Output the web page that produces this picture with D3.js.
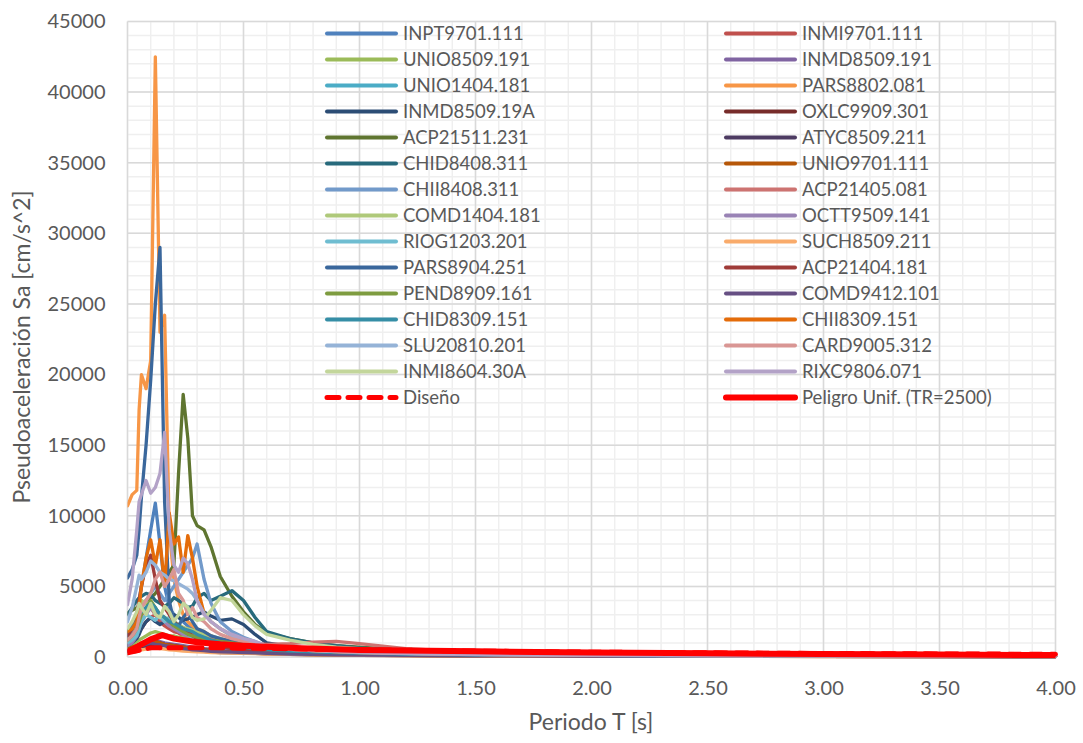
<!DOCTYPE html>
<html>
<head>
<meta charset="utf-8">
<script src="https://cdn.jsdelivr.net/npm/d3@7"></script>
<style>
  body { margin: 0; background: #fff; }
  svg { display: block; }
  text { font-family: Lato, "Open Sans", sans-serif; fill: #595959; }
</style>
</head>
<body>
<svg id="chart" width="1083" height="743"></svg>
<script>
// Periods (s) shared by all recorded spectra
const periods = [0, 0.02, 0.04, 0.05, 0.06, 0.08, 0.10, 0.12, 0.14, 0.16, 0.18, 0.20, 0.22, 0.24, 0.26, 0.28, 0.30, 0.33, 0.36, 0.40, 0.45, 0.50, 0.55, 0.60, 0.70, 0.80, 0.90, 1.00, 1.20, 1.50, 2.00, 2.50, 3.00, 3.50, 4.00];

// Pseudo-acceleration Sa (cm/s^2) of each record
const INPT9701_111 = [1500, 2000, 3000, 4000, 5000, 7000, 9000, 10900, 8000, 5000, 3500, 3000, 2800, 2500, 2200, 2000, 1800, 1500, 1200, 1000, 800, 650, 550, 450, 380, 320, 280, 250, 200, 150, 110, 85, 70, 55, 45];
const INMI9701_111 = [1000, 1200, 1500, 1800, 2000, 2500, 2800, 3000, 2500, 2200, 2000, 1800, 1700, 1500, 1400, 1300, 1200, 1100, 1000, 900, 800, 700, 600, 500, 420, 360, 320, 280, 220, 160, 120, 90, 70, 60, 50];
const UNIO8509_191 = [800, 900, 1100, 1200, 1300, 1500, 1700, 1800, 1700, 1600, 1500, 1500, 1400, 1400, 1300, 1300, 1200, 1200, 1100, 1000, 900, 800, 700, 600, 500, 420, 360, 300, 230, 170, 120, 90, 75, 60, 50];
const INMD8509_191 = [500, 600, 700, 800, 900, 1000, 1100, 1200, 1100, 1000, 950, 900, 850, 800, 750, 700, 650, 600, 550, 500, 450, 400, 380, 330, 280, 240, 210, 190, 150, 110, 80, 60, 50, 40, 35];
const UNIO1404_181 = [1500, 1800, 2200, 2800, 3000, 3200, 3500, 3000, 2800, 2500, 2300, 2500, 2200, 2000, 1800, 1600, 1500, 1300, 1100, 950, 800, 700, 600, 500, 420, 360, 310, 270, 200, 150, 110, 85, 70, 55, 45];
const PARS8802_081 = [10700, 11500, 11800, 17500, 20000, 19000, 21000, 42500, 23000, 24200, 9000, 5500, 4000, 3000, 2500, 2200, 2000, 1800, 1500, 1200, 1000, 900, 800, 650, 550, 450, 400, 350, 280, 200, 150, 110, 90, 70, 60];
const INMD8509_19A = [800, 1000, 1300, 1600, 2000, 2500, 2800, 2500, 2300, 2500, 2800, 3000, 2800, 2600, 2700, 2800, 3000, 3200, 2900, 2600, 2700, 2300, 1600, 1000, 750, 580, 480, 400, 300, 210, 150, 110, 90, 70, 60];
const OXLC9909_301 = [400, 500, 600, 700, 800, 900, 1000, 1100, 1000, 900, 850, 800, 750, 700, 650, 600, 550, 500, 450, 400, 350, 320, 300, 260, 220, 190, 170, 150, 120, 90, 70, 55, 45, 38, 32];
const ACP21511_231 = [3100, 3300, 3500, 3400, 3600, 4000, 4200, 4500, 5000, 5500, 6000, 6500, 13000, 18600, 15500, 10000, 9300, 9000, 7800, 5700, 4300, 3200, 2300, 1700, 1300, 1000, 800, 700, 500, 350, 250, 180, 130, 100, 80];
const ATYC8509_211 = [300, 350, 400, 500, 600, 700, 800, 900, 850, 800, 700, 650, 600, 550, 500, 480, 450, 400, 350, 320, 300, 280, 250, 220, 190, 160, 140, 120, 95, 70, 55, 45, 38, 32, 28];
const CHID8408_311 = [3000, 3500, 4000, 4200, 4300, 4500, 4400, 4000, 3800, 3600, 3800, 4200, 4000, 3800, 3500, 3600, 4200, 4500, 4000, 4300, 4700, 4000, 2800, 1800, 1300, 1000, 800, 650, 450, 300, 220, 160, 120, 100, 80];
const UNIO9701_111 = [600, 700, 800, 900, 1000, 1100, 1200, 1100, 1000, 900, 850, 800, 750, 700, 650, 600, 550, 500, 450, 400, 350, 300, 270, 230, 200, 170, 150, 130, 100, 75, 55, 45, 35, 30, 25];
const CHII8408_311 = [1500, 1800, 2500, 3000, 3500, 4000, 4500, 5000, 4500, 4000, 4500, 5000, 5500, 6000, 6500, 7000, 8000, 5500, 3800, 2500, 1800, 1400, 1100, 800, 600, 480, 400, 340, 250, 180, 130, 100, 80, 65, 55];
const ACP21405_081 = [1200, 1500, 2000, 2500, 3000, 3200, 3500, 3000, 2800, 2500, 2200, 2000, 1900, 1800, 1700, 1600, 1500, 1400, 1300, 1200, 1100, 1000, 950, 900, 950, 1050, 1100, 950, 600, 350, 220, 150, 110, 90, 75];
const COMD1404_181 = [1800, 2200, 3000, 3500, 4000, 3800, 3500, 3200, 3000, 2800, 2600, 2500, 2300, 2100, 2000, 1900, 1800, 1600, 1500, 1300, 1100, 950, 850, 700, 550, 450, 380, 320, 240, 170, 120, 90, 75, 60, 50];
const OCTT9509_141 = [800, 1000, 1500, 2000, 2500, 3000, 3500, 3200, 2800, 2500, 2200, 2000, 1800, 1600, 1500, 1400, 1300, 1200, 1000, 900, 800, 700, 600, 500, 420, 350, 300, 260, 200, 150, 110, 85, 70, 55, 45];
const RIOG1203_201 = [1000, 1200, 1500, 2000, 2500, 3000, 2800, 2600, 3000, 2500, 2800, 2200, 2000, 1800, 1600, 1400, 1300, 1200, 1000, 850, 700, 600, 500, 420, 350, 300, 260, 230, 180, 130, 100, 80, 65, 55, 45];
const SUCH8509_211 = [300, 350, 400, 450, 500, 550, 600, 650, 600, 550, 500, 480, 450, 420, 400, 380, 360, 340, 320, 300, 280, 260, 240, 210, 180, 160, 140, 120, 100, 75, 55, 45, 38, 32, 28];
const PARS8904_251 = [5600, 6200, 7200, 9000, 11300, 15000, 19600, 25000, 29000, 11000, 4000, 2500, 2200, 2800, 3200, 2500, 2000, 1800, 1500, 1300, 1100, 900, 800, 650, 500, 420, 380, 330, 260, 190, 140, 100, 80, 65, 55];
const ACP21404_181 = [1500, 2000, 3000, 4000, 5000, 6500, 7200, 5500, 4000, 3500, 3000, 2500, 2200, 2000, 1800, 1500, 1300, 1100, 900, 750, 600, 500, 450, 380, 320, 280, 250, 220, 180, 130, 100, 80, 65, 55, 45];
const PEND8909_161 = [1200, 1500, 2000, 2500, 3000, 3500, 4000, 3500, 3000, 2800, 2500, 2200, 2000, 1800, 1600, 1500, 1400, 1300, 1200, 1100, 1000, 900, 800, 650, 520, 430, 370, 320, 240, 170, 120, 90, 75, 60, 50];
const COMD9412_101 = [400, 500, 600, 700, 800, 900, 1000, 900, 850, 800, 750, 700, 650, 600, 550, 500, 480, 450, 400, 370, 340, 310, 290, 250, 210, 180, 160, 140, 110, 80, 60, 48, 40, 34, 30];
const CHID8309_151 = [1800, 2200, 2500, 3000, 3200, 3500, 3800, 3500, 3000, 2800, 2500, 2400, 2200, 2000, 1900, 1800, 1600, 1400, 1200, 1000, 850, 700, 600, 500, 420, 360, 310, 270, 200, 150, 110, 85, 70, 55, 45];
const CHII8309_151 = [1800, 2000, 2500, 3500, 5000, 7000, 8300, 6500, 8300, 5000, 10200, 8000, 8500, 6000, 8600, 7000, 5000, 3100, 2500, 2000, 1500, 1200, 1000, 800, 600, 450, 380, 320, 250, 180, 130, 100, 80, 65, 55];
const SLU20810_201 = [2500, 3500, 5000, 5800, 5500, 6000, 6800, 6500, 6000, 5800, 5500, 5400, 5200, 5000, 4800, 4500, 4000, 3100, 2500, 2000, 1500, 1200, 1000, 750, 550, 450, 380, 320, 240, 170, 120, 90, 75, 60, 50];
const CARD9005_312 = [1200, 1500, 2000, 2800, 3500, 4000, 4500, 5500, 6000, 5000, 5500, 6200, 4500, 4000, 3000, 3500, 2800, 2500, 2000, 1600, 1300, 1100, 900, 700, 550, 450, 380, 330, 250, 180, 130, 100, 80, 65, 55];
const INMI8604_30A = [2000, 2500, 3200, 3800, 3500, 3000, 3800, 3000, 2800, 3600, 3200, 2500, 3000, 3800, 3500, 2800, 2600, 2700, 3300, 4200, 4000, 3000, 2200, 1600, 1200, 900, 700, 600, 420, 300, 210, 150, 110, 90, 70];
const RIXC9806_071 = [3700, 5500, 9000, 11000, 11500, 12500, 11600, 12000, 13000, 15900, 9000, 6500, 6000, 7000, 6600, 5500, 4000, 3000, 2500, 2000, 1600, 1300, 1100, 800, 600, 480, 400, 350, 260, 180, 130, 100, 80, 65, 55];

// Design spectrum
const designT  = [0, 0.10, 0.40, 0.60, 1.00, 1.50, 2.00, 3.00, 4.00];
const designSa = [300, 650, 650, 600, 520, 420, 340, 250, 190];

// Uniform hazard spectrum, TR = 2500 years
const uhsT  = [0, 0.05, 0.10, 0.15, 0.20, 0.30, 0.40, 0.50, 0.75, 1.00, 1.50, 2.00, 2.50, 3.00, 3.50, 4.00];
const uhsSa = [350, 800, 1250, 1550, 1300, 1050, 900, 800, 620, 500, 400, 320, 260, 210, 170, 140];

// Axis ticks
const xTicks = [0, 0.5, 1.0, 1.5, 2.0, 2.5, 3.0, 3.5, 4.0];
const yTicks = [0, 5000, 10000, 15000, 20000, 25000, 30000, 35000, 40000, 45000];

const records = [
  ["INPT9701.111", INPT9701_111, "#4F81BD"],
  ["INMI9701.111", INMI9701_111, "#C0504D"],
  ["UNIO8509.191", UNIO8509_191, "#9BBB59"],
  ["INMD8509.191", INMD8509_191, "#8064A2"],
  ["UNIO1404.181", UNIO1404_181, "#4BACC6"],
  ["PARS8802.081", PARS8802_081, "#F79646"],
  ["INMD8509.19A", INMD8509_19A, "#2C4D75"],
  ["OXLC9909.301", OXLC9909_301, "#772C2A"],
  ["ACP21511.231", ACP21511_231, "#5F7530"],
  ["ATYC8509.211", ATYC8509_211, "#4D3B62"],
  ["CHID8408.311", CHID8408_311, "#276A7C"],
  ["UNIO9701.111", UNIO9701_111, "#B65708"],
  ["CHII8408.311", CHII8408_311, "#729ACA"],
  ["ACP21405.081", ACP21405_081, "#CD7371"],
  ["COMD1404.181", COMD1404_181, "#AFC97A"],
  ["OCTT9509.141", OCTT9509_141, "#9983B5"],
  ["RIOG1203.201", RIOG1203_201, "#6FBDD1"],
  ["SUCH8509.211", SUCH8509_211, "#F9AB6B"],
  ["PARS8904.251", PARS8904_251, "#3A679C"],
  ["ACP21404.181", ACP21404_181, "#9F3B38"],
  ["PEND8909.161", PEND8909_161, "#7E9C40"],
  ["COMD9412.101", COMD9412_101, "#664F83"],
  ["CHID8309.151", CHID8309_151, "#358EA6"],
  ["CHII8309.151", CHII8309_151, "#E46C0A"],
  ["SLU20810.201", SLU20810_201, "#95B3D7"],
  ["CARD9005.312", CARD9005_312, "#D99694"],
  ["INMI8604.30A", INMI8604_30A, "#C3D69B"],
  ["RIXC9806.071", RIXC9806_071, "#B3A2C7"]
];

const svg = d3.select("#chart");
const pL = 127.5, pR = 1055.5, pT = 21.5, pB = 657;
const x = d3.scaleLinear().domain([0, 4]).range([pL, pR]);
const y = d3.scaleLinear().domain([0, 45000]).range([pB, pT]);

// Grid: minor then major
const grid = svg.append("g");
grid.selectAll(".vminor").data(d3.range(0, 41).map(i => i / 10)).join("line")
  .attr("x1", d => x(d)).attr("x2", d => x(d)).attr("y1", pT).attr("y2", pB)
  .attr("stroke", "#efefef").attr("stroke-width", 1.5);
grid.selectAll(".hminor").data(d3.range(0, 46).map(i => i * 1000)).join("line")
  .attr("y1", d => y(d)).attr("y2", d => y(d)).attr("x1", pL).attr("x2", pR)
  .attr("stroke", "#efefef").attr("stroke-width", 1.5);
grid.selectAll(".vmajor").data(xTicks).join("line")
  .attr("x1", d => x(d)).attr("x2", d => x(d)).attr("y1", pT).attr("y2", pB)
  .attr("stroke", "#d9d9d9").attr("stroke-width", 1.5);
grid.selectAll(".hmajor").data(yTicks).join("line")
  .attr("y1", d => y(d)).attr("y2", d => y(d)).attr("x1", pL).attr("x2", pR)
  .attr("stroke", "#d9d9d9").attr("stroke-width", 1.5);

// Axes (labels only)
const xAxis = svg.append("g").attr("transform", `translate(0,${pB})`)
  .call(d3.axisBottom(x).tickValues(xTicks).tickFormat(d3.format(".2f")).tickSize(0).tickPadding(24));
const yAxis = svg.append("g").attr("transform", `translate(${pL},0)`)
  .call(d3.axisLeft(y).tickValues(yTicks).tickFormat(d3.format("d")).tickSize(0).tickPadding(22));
[xAxis, yAxis].forEach(a => {
  a.select(".domain").remove();
  a.selectAll("text").style("font-family", "Lato, 'Open Sans', sans-serif").style("font-size", "20px").attr("fill", "#595959");
});

svg.append("text").attr("x", 591).attr("y", 730).attr("text-anchor", "middle")
  .style("font-size", "23px").text("Periodo T [s]");
svg.append("text").attr("transform", `translate(30,347) rotate(-90)`)
  .attr("text-anchor", "middle").style("font-size", "23px").text("Pseudoaceleración Sa [cm/s^2]");

// Spectra
svg.append("clipPath").attr("id", "plot").append("rect")
  .attr("x", pL).attr("y", pT - 4).attr("width", pR - pL + 6).attr("height", pB - pT + 10);
const plot = svg.append("g").attr("clip-path", "url(#plot)");
const line = d3.line().x(d => x(d[0])).y(d => y(d[1]));

records.forEach(([name, vals, color]) => {
  plot.append("path").datum(vals.map((v, i) => [periods[i], v]))
    .attr("d", line).attr("fill", "none").attr("stroke", color)
    .attr("stroke-width", 3.3).attr("stroke-linejoin", "round").attr("stroke-linecap", "round");
});
plot.append("path").datum(designT.map((t, i) => [t, designSa[i]]))
  .attr("d", line).attr("fill", "none").attr("stroke", "#FF0000")
  .attr("stroke-width", 5).attr("stroke-dasharray", "12,9").attr("stroke-linecap", "round");
plot.append("path").datum(uhsT.map((t, i) => [t, uhsSa[i]]))
  .attr("d", line).attr("fill", "none").attr("stroke", "#FF0000")
  .attr("stroke-width", 6).attr("stroke-linejoin", "round");

// Legend, two columns, row-major order
const legendItems = records.map(r => ({ name: r[0], color: r[2], dash: null, w: 4 }))
  .concat([{ name: "Diseño", color: "#FF0000", dash: "12,9", w: 5 },
           { name: "Peligro Unif. (TR=2500)", color: "#FF0000", dash: null, w: 6 }]);
const colX = [327, 726];
const legend = svg.append("g");
legendItems.forEach((it, i) => {
  const cx = colX[i % 2], cy = 33.5 + Math.floor(i / 2) * 26;
  legend.append("line").attr("x1", cx).attr("x2", cx + 69).attr("y1", cy).attr("y2", cy)
    .attr("stroke", it.color).attr("stroke-width", it.w).attr("stroke-linecap", "round")
    .attr("stroke-dasharray", it.dash);
  legend.append("text").attr("x", cx + 76).attr("y", cy).attr("dy", "0.36em")
    .style("font-size", "18.5px").text(it.name);
});
</script>
</body>
</html>
